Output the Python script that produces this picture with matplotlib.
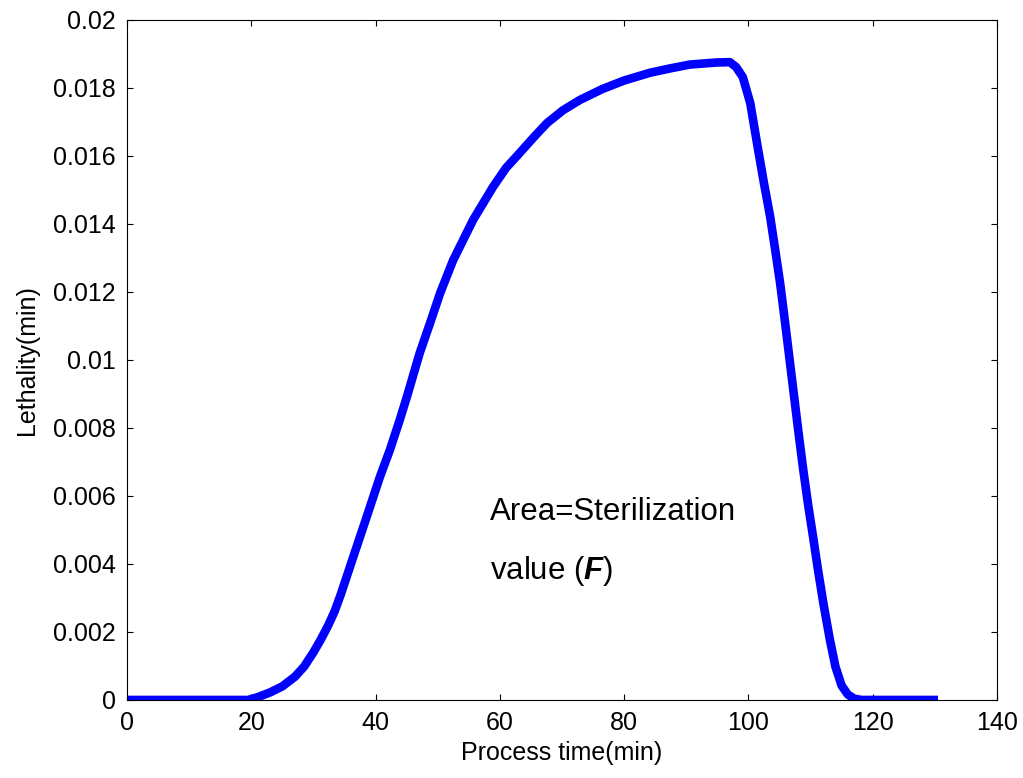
import matplotlib
matplotlib.use("Agg")
import matplotlib.pyplot as plt

# Data
time_min = [0, 19.5, 21, 23.0, 25.0, 27.0, 28.5, 30.0, 31.2, 32.4, 33.4, 34.4,
            36.4, 38.6, 40.7, 42.3, 43.9, 45.1, 47.1, 48.8, 50.4, 52.5, 55.7,
            58.9, 61.0, 63.2, 65.5, 67.6, 70.2, 72.9, 76.5, 80, 84.2, 87.5,
            90.6, 94.9, 97.0, 98.0, 99.1, 100.3, 101.5, 102.5, 103.5, 104.3,
            105.1, 106.0, 106.8, 108.0, 108.8, 109.6, 110.4, 111.2, 112.1,
            113.1, 114.0, 115.0, 116.0, 117.0, 118.2, 130.5]
lethality = [0, 0, 0.00008, 0.00022, 0.0004, 0.00068, 0.00098, 0.0014, 0.00178,
             0.0022, 0.0026, 0.0031, 0.0042, 0.0054, 0.00656, 0.00735, 0.00824,
             0.00895, 0.0102, 0.0111, 0.01197, 0.01294, 0.01412, 0.01509, 0.01565,
             0.01609, 0.01656, 0.01697, 0.01735, 0.01765, 0.01797, 0.01822,
             0.01845, 0.01858, 0.01869, 0.01875, 0.01876, 0.01862, 0.01832,
             0.01755, 0.01625, 0.0152, 0.01421, 0.01325, 0.01226, 0.01095,
             0.00975, 0.00795, 0.0068, 0.00575, 0.0048, 0.00382, 0.0028,
             0.00178, 0.00098, 0.00042, 0.00016, 0.00004, 0, 0]

x_ticks = [0, 20, 40, 60, 80, 100, 120, 140]
y_ticks = [0, 0.002, 0.004, 0.006, 0.008, 0.01, 0.012, 0.014, 0.016, 0.018, 0.02]
y_tick_labels = ["0", "0.002", "0.004", "0.006", "0.008", "0.01", "0.012",
                 "0.014", "0.016", "0.018", "0.02"]

plt.rcParams['font.family'] = ['Liberation Sans', 'DejaVu Sans']
plt.rcParams['mathtext.fontset'] = 'custom'
plt.rcParams['mathtext.rm'] = 'Liberation Sans'
plt.rcParams['mathtext.it'] = 'Liberation Sans:italic'
plt.rcParams['mathtext.bf'] = 'Liberation Sans:bold'
plt.rcParams['mathtext.bfit'] = 'Liberation Sans:bold:italic'

fig = plt.figure(figsize=(10.23, 7.78), dpi=100)
ax = fig.add_axes([0.1241, 0.1003, 0.8505, 0.874])

ax.plot(time_min, lethality, color=(0, 0, 1), linewidth=6.2,
        solid_joinstyle='round', solid_capstyle='butt')

ax.set_xlim(0, 140)
ax.set_ylim(0, 0.02)
ax.set_xticks(x_ticks)
ax.set_xticklabels([str(v) for v in x_ticks])
ax.set_yticks(y_ticks)
ax.set_yticklabels(y_tick_labels)
ax.tick_params(direction='in', length=4, width=0.8, top=True, right=True,
               labelsize=18, pad=8, colors='black')
for s in ax.spines.values():
    s.set_linewidth(0.8)
    s.set_color('black')

ax.set_xlabel("Process time(min)", fontsize=18, labelpad=4)
ax.set_ylabel("Lethality(min)", fontsize=18, labelpad=10)

ax.text(58.4, 0.0053, "Area=Sterilization", fontsize=22.5, ha='left', va='baseline')
ax.text(58.4, 0.00355, r"value ($\mathbfit{F}$)", fontsize=22.5, ha='left', va='baseline')

fig.savefig("out.png", dpi=100)
